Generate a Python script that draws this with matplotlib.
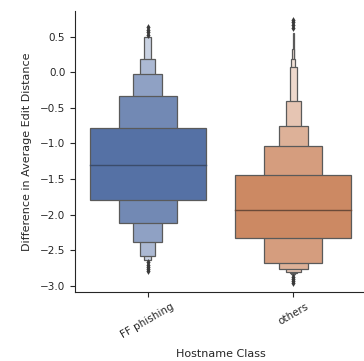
import numpy as np
import matplotlib
matplotlib.use("Agg")
import matplotlib.pyplot as plt
from matplotlib.colors import to_rgb

# categories and letter-value boxes (inner box first)
categories = ["FF phishing", "others"]
medians = [-1.30, -1.94]
ff_tops = [-0.78, -0.34, -0.02, 0.18, 0.49]
ff_bottoms = [-1.79, -2.11, -2.38, -2.58, -2.64]
ot_tops = [-1.44, -1.04, -0.75, -0.41, 0.07, 0.19, 0.32, 0.55]
ot_bottoms = [-2.32, -2.68, -2.76, -2.80, -2.82, -2.83, -2.84, -2.85]
ff_outliers = [0.53, 0.57, 0.60, 0.64, -2.66, -2.70, -2.73, -2.76, -2.79]
ot_outliers = [0.62, 0.66, 0.70, 0.74, -2.87, -2.90, -2.93, -2.96]

tops = [ff_tops, ot_tops]
bottoms = [ff_bottoms, ot_bottoms]
outliers = [ff_outliers, ot_outliers]
base_colors = ["#5571a5", "#cc8963"]
median_colors = ["#3b4c6b", "#6b4a38"]

plt.rcParams["font.family"] = ["DejaVu Sans"]
fig = plt.figure(figsize=(3.64, 3.61), dpi=100)
ax = fig.add_axes([75 / 364, 69 / 361, 291 / 364, 281 / 361])

for i in range(len(categories)):
    base = np.array(to_rgb(base_colors[i]))
    n = len(tops[i])
    # widest box first so the narrow ones sit on top
    for j in range(n - 1, -1, -1):
        w = 0.8 / 2 ** j
        mix = min(j * 0.17, 0.75)
        col = base + (1 - base) * mix
        ax.bar(i, tops[i][j] - bottoms[i][j], bottom=bottoms[i][j], width=w,
               color=col, edgecolor="#5a5a5a", linewidth=0.9, zorder=2)
    ax.plot([i - 0.4, i + 0.4], [medians[i], medians[i]], color=median_colors[i],
            linewidth=1.0, zorder=3)
    ax.scatter(np.full(len(outliers[i]), i), outliers[i], marker="d", s=12,
               color="#3a3a3a", zorder=4, linewidths=0)

ax.set_xlim(-0.5, 1.5)
ax.set_ylim(-3.085, 0.86)
ax.set_xticks(range(len(categories)))
ax.set_xticklabels(categories, rotation=30, ha="center")
ax.set_yticks(np.arange(-3.0, 0.51, 0.5))
ax.tick_params(labelsize=7.5, length=3.5, width=0.8, colors="#262626")
ax.set_xlabel("Hostname Class", fontsize=8, color="#262626", labelpad=6)
ax.set_ylabel("Difference in Average Edit Distance", fontsize=8, color="#262626",
              labelpad=6)
for s in ["top", "right"]:
    ax.spines[s].set_visible(False)
for s in ["left", "bottom"]:
    ax.spines[s].set_color("#262626")
    ax.spines[s].set_linewidth(0.8)

fig.savefig("out.png", dpi=100)
